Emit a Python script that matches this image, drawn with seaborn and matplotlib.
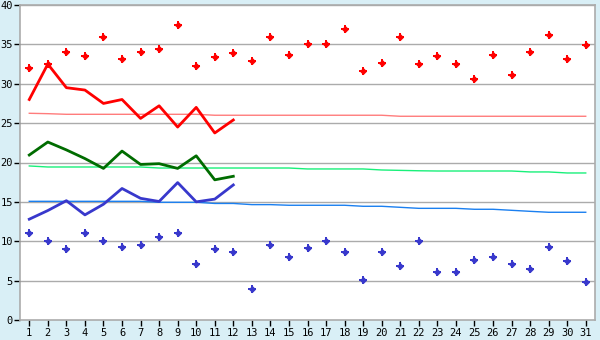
import matplotlib
matplotlib.use("Agg")
import matplotlib.pyplot as plt
import seaborn as sns
import pandas as pd
import numpy as np

days = list(range(1, 32))

max_points = [32.0, 32.5, 34.0, 33.5, 36.0, 33.2, 34.0, 34.4, 37.5, 32.2,
              33.35, 33.85, 32.85, 36.0, 33.6, 35.1, 35.0, 37.0, 31.6, 32.6,
              36.0, 32.45, 33.5, 32.45, 30.55, 33.6, 31.05, 34.0, 36.15, 33.2, 34.9]
min_points = [11.0, 10.0, 9.0, 11.0, 10.0, 9.25, 9.5, 10.6, 11.0, 7.05,
              9.0, 8.6, 4.0, 9.5, 7.95, 9.1, 10.0, 8.6, 5.05, 8.6,
              6.85, 10.0, 6.05, 6.05, 7.6, 7.95, 7.05, 6.45, 9.25, 7.45, 4.8]

line_days = list(range(1, 13))
max_line = [28.0, 32.5, 29.5, 29.2, 27.5, 28.0, 25.6, 27.2, 24.5, 27.0, 23.75, 25.4]
mean_line = [20.95, 22.6, 21.6, 20.5, 19.25, 21.45, 19.75, 19.85, 19.25, 20.85, 17.8, 18.25]
min_line = [12.8, 13.9, 15.15, 13.35, 14.7, 16.7, 15.45, 15.05, 17.45, 15.0, 15.35, 17.15]

norm_max = [26.25, 26.2, 26.12, 26.12, 26.12, 26.12, 26.12, 26.12, 26.12, 26.12,
            26.0, 26.0, 26.0, 26.0, 26.0, 26.0, 26.0, 26.0, 26.0, 26.0,
            25.87, 25.87, 25.87, 25.87, 25.87, 25.87, 25.87, 25.87, 25.87, 25.87, 25.87]
norm_mean = [19.56, 19.43, 19.43, 19.43, 19.43, 19.43, 19.43, 19.3, 19.3, 19.3,
             19.3, 19.3, 19.3, 19.3, 19.3, 19.18, 19.18, 19.18, 19.18, 19.05,
             19.0, 18.95, 18.92, 18.92, 18.92, 18.92, 18.92, 18.8, 18.8, 18.67, 18.67]
norm_min = [15.07, 15.07, 15.07, 15.07, 15.07, 15.07, 15.07, 14.95, 14.95, 14.95,
            14.8, 14.8, 14.65, 14.65, 14.57, 14.57, 14.57, 14.57, 14.44, 14.44,
            14.31, 14.18, 14.18, 14.18, 14.06, 14.06, 13.93, 13.8, 13.68, 13.68, 13.68]

y_ticks = [0, 5, 10, 15, 20, 25, 30, 35, 40]

bg = "#D9EFF6"
fig = plt.figure(figsize=(6, 3.4), dpi=100, facecolor=bg)
ax = fig.add_axes([20/600, 20/340, 575/600, 315/340])
ax.set_facecolor("white")

df_pts = pd.DataFrame({"day": days, "max": max_points, "min": min_points,
                       "nmax": norm_max, "nmean": norm_mean, "nmin": norm_min})
df_line = pd.DataFrame({"day": line_days, "max": max_line, "mean": mean_line, "min": min_line})

for y in y_ticks[1:]:
    ax.axhline(y, color="#ABABAB", lw=1, zorder=0)

sns.lineplot(data=df_pts, x="day", y="nmax", ax=ax, color="#FF7C7C", lw=1, zorder=2)
sns.lineplot(data=df_pts, x="day", y="nmean", ax=ax, color="#19F07A", lw=1, zorder=2)
sns.lineplot(data=df_pts, x="day", y="nmin", ax=ax, color="#1A7FF0", lw=1, zorder=2)

sns.lineplot(data=df_line, x="day", y="max", ax=ax, color="#FF0000", lw=2, zorder=3)
sns.lineplot(data=df_line, x="day", y="mean", ax=ax, color="#006C00", lw=2, zorder=3)
sns.lineplot(data=df_line, x="day", y="min", ax=ax, color="#3838CC", lw=2, zorder=3)

for col, c in [("max", "#FF0000"), ("min", "#3838CC")]:
    sns.scatterplot(data=df_pts, x="day", y=col, ax=ax, color=c, marker="D",
                    s=14, linewidth=0, zorder=4)
    sns.scatterplot(data=df_pts, x="day", y=col, ax=ax, color=c, marker="P",
                    s=30, linewidth=0, zorder=4)

ax.set_xlim(0.5, 31.5)
ax.set_ylim(0, 40)
ax.set_xticks(days)
ax.set_xticklabels([str(d) for d in days])
ax.set_yticks(y_ticks)
ax.set_yticklabels([str(v) for v in y_ticks])
ax.set_xlabel("")
ax.set_ylabel("")

for side in ["top", "right", "left", "bottom"]:
    ax.spines[side].set_color("#ABABAB")
    ax.spines[side].set_linewidth(1.2)

ax.tick_params(axis="both", labelsize=7.5, colors="black", length=4, width=1,
               direction="out")
ax.tick_params(axis="x", pad=2)
ax.tick_params(axis="y", pad=1)
for lbl in ax.get_xticklabels() + ax.get_yticklabels():
    lbl.set_family("DejaVu Sans Mono")

fig.savefig("out.png", dpi=100, facecolor=bg)
